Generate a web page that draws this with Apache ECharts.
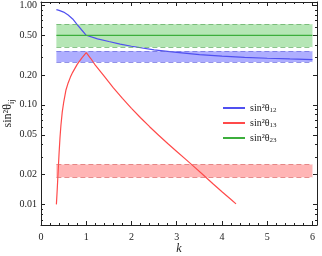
<!DOCTYPE html>
<html><head><meta charset="utf-8">
<script src="https://cdn.jsdelivr.net/npm/echarts@6/dist/echarts.min.js"></script>
<style>html,body{margin:0;padding:0;background:#fff}#c{width:322px;height:256px}</style>
</head><body><div id="c"></div>
<script>
// sin^2 theta_12 (blue)
const k12 = [0.34,0.4,0.5,0.6,0.7,0.8,0.9,1.0,1.25,1.5,1.75,2,2.5,3,3.5,4,4.5,5,5.5,6];
const s12 = [0.905,0.89,0.855,0.80,0.73,0.64,0.565,0.50,0.46,0.433,0.408,0.388,0.356,0.336,0.32,0.308,0.300,0.294,0.289,0.285];
// sin^2 theta_13 (red)
const k13 = [0.34,0.35,0.36,0.37,0.38,0.40,0.42,0.44,0.47,0.5,0.55,0.6,0.65,0.7,0.8,0.9,1.0,1.1,1.2,1.4,1.6,1.8,2.0,2.2,2.4,2.6,2.8,3.0,3.2,3.4,3.6,3.8,4.0,4.2,4.31];
const s13 = [0.0100,0.012,0.0145,0.018,0.022,0.033,0.047,0.062,0.085,0.105,0.14,0.166,0.19,0.212,0.255,0.295,0.335,0.292,0.251,0.193,0.148,0.116,0.0923,0.0741,0.0603,0.0495,0.0409,0.0340,0.0283,0.0235,0.0195,0.0161,0.0134,0.0112,0.0101];
// sin^2 theta_23 (green)
const k23 = [0.34,6];
const s23 = [0.5,0.5];
// 3 sigma bands [low, high], k-range
const bandK = [0.34,6];
const band12 = [0.27,0.346];
const band13 = [0.0187,0.0252];
const band23 = [0.382,0.645];
// tick labels
const yLabels = [0.01,0.02,0.05,0.1,0.2,0.5,1.0];
const yMinor = [0.007,0.008,0.009,0.03,0.04,0.06,0.07,0.08,0.09,0.3,0.4,0.6,0.7,0.8,0.9];
const names = ['sin²θ12','sin²θ13','sin²θ23'];

const zip = (a,b)=>a.map((v,i)=>[v,b[i]]);
const font = 'Liberation Serif';
const yMin = 0.0062, yMax = 1.08;

function bandSeries(b, fill, dash){
  return {
    type:'line', data:[], silent:true, z:1,
    markArea:{silent:true, itemStyle:{color:fill}, data:[[{coord:[bandK[0],b[0]]},{coord:[bandK[1],b[1]]}]]},
    markLine:{silent:true, symbol:'none', label:{show:false},
      lineStyle:{color:dash,type:[5,3],width:1},
      data:[[{coord:[bandK[0],b[0]]},{coord:[bandK[1],b[0]]}],[{coord:[bandK[0],b[1]]},{coord:[bandK[1],b[1]]}]]}
  };
}
function yAx(pos, labels, minor){
  return {type:'log', position:pos, min:yMin, max:yMax, logBase:10,
    axisLine:{show:!minor, lineStyle:{color:'#222',width:1}},
    splitLine:{show:false},
    axisTick:{show:true, inside:true, length: minor?2:4, customValues: minor?yMinor:yLabels, lineStyle:{color:'#222'}},
    axisLabel:{show:labels, customValues:yLabels, fontFamily:font, fontSize:10, color:'#222', margin:4,
      formatter:v=>Number(v).toFixed(2)},
  };
}
function xAx(pos, labels){
  return {type:'value', position:pos, min:0, max:6.1, interval:1,
    axisLine:{show:true, onZero:false, lineStyle:{color:'#222',width:1}},
    splitLine:{show:false},
    axisTick:{show:true, inside:true, length:4, lineStyle:{color:'#222'}},
    minorTick:{show:true, splitNumber:5, length:2, lineStyle:{color:'#222'}},
    axisLabel:{show:labels, fontFamily:font, fontSize:10, color:'#222', margin:7,
      formatter:v=>(Math.abs(v-Math.round(v))<1e-6 && v<=6)?String(Math.round(v)):''},
  };
}
const xa = xAx('bottom', true);
xa.name = 'k'; xa.nameLocation='middle'; xa.nameGap=18; xa.nameMoveOverlap=false;
xa.nameTextStyle = {fontFamily:font, fontStyle:'italic', fontSize:12, color:'#222'};
const ya = yAx('left', true, false);
ya.name = '{m|sin²θ}{s|ij}'; ya.nameLocation='middle'; ya.nameGap=25; ya.nameRotate=90; ya.nameMoveOverlap=false;
ya.nameTextStyle = {color:'#222', rich:{m:{fontFamily:font,fontSize:12,color:'#222',lineHeight:16},s:{fontFamily:font,fontSize:8,color:'#222',verticalAlign:'bottom',lineHeight:16,padding:[5,0,0,0]}}};

function lbl(n){ return '{m|sin²θ}{s|'+n.slice(5)+'}'; }

const chart = echarts.init(document.getElementById('c'), null, {renderer:'canvas'});
chart.setOption({
  animation:false,
  grid:{left:41, right:5, top:2, bottom:31, containLabel:false, outerBoundsMode:'none'},
  xAxis:[xa, xAx('top', false)],
  yAxis:[ya, yAx('left', false, true), yAx('right', false, false), yAx('right', false, true)],
  legend:{left:218, top:96, orient:'vertical', itemWidth:22, itemHeight:2, itemGap:1, icon:'rect',
    data:names, formatter:lbl,
    textStyle:{lineHeight:14, rich:{m:{fontFamily:font,fontSize:10,color:'#222',lineHeight:14},s:{fontFamily:font,fontSize:7,color:'#222',lineHeight:14,padding:[4,0,0,0]}}}},
  series:[
    bandSeries(band23,'rgba(120,210,120,0.55)','rgba(90,170,90,0.7)'),
    bandSeries(band12,'rgba(120,120,255,0.6)','rgba(100,100,220,0.7)'),
    bandSeries(band13,'rgba(255,120,120,0.55)','rgba(220,100,100,0.7)'),
    {name:names[0], type:'line', data:zip(k12,s12), showSymbol:false, z:3, color:'#5050f0', lineStyle:{width:1.2}},
    {name:names[1], type:'line', data:zip(k13,s13), showSymbol:false, z:3, color:'#ff4a4a', lineStyle:{width:1.2}},
    {name:names[2], type:'line', data:zip(k23,s23), showSymbol:false, z:3, color:'#3cae3c', lineStyle:{width:1.2}},
  ]
});
</script></body></html>
